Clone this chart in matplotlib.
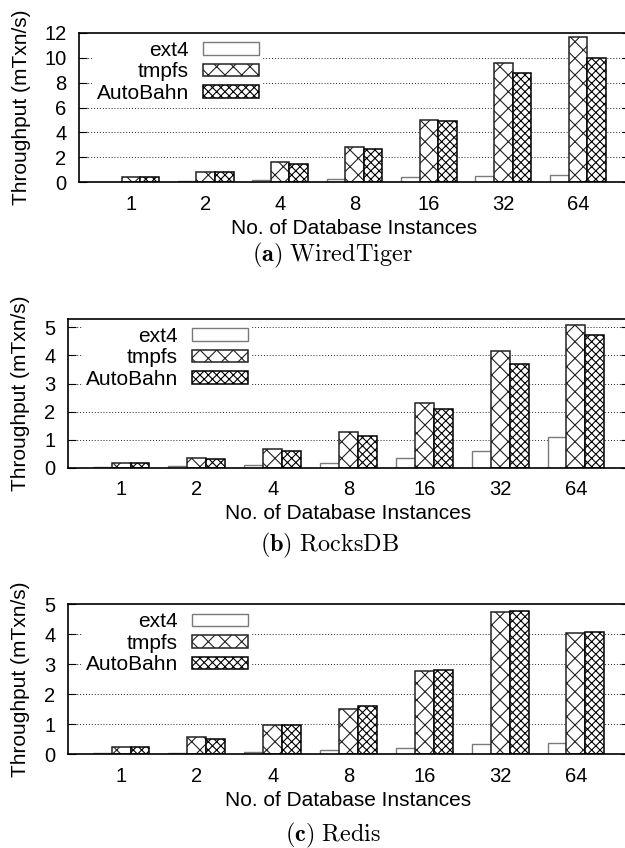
import numpy as np
import matplotlib
matplotlib.use("Agg")
import matplotlib.pyplot as plt

plt.rcParams['font.family'] = ['Liberation Sans', 'DejaVu Sans']
plt.rcParams['mathtext.fontset'] = 'cm'
plt.rcParams['hatch.linewidth'] = 0.8

categories = ["1", "2", "4", "8", "16", "32", "64"]
series_names = ["ext4", "tmpfs", "AutoBahn"]

wt_ext4 = [0.03, 0.07, 0.13, 0.27, 0.38, 0.47, 0.55]
wt_tmpfs = [0.43, 0.83, 1.58, 2.84, 4.99, 9.55, 11.70]
wt_ab = [0.40, 0.78, 1.45, 2.63, 4.89, 8.78, 9.98]

rd_ext4 = [0.02, 0.05, 0.09, 0.18, 0.33, 0.60, 1.10]
rd_tmpfs = [0.18, 0.36, 0.67, 1.26, 2.29, 4.16, 5.09]
rd_ab = [0.16, 0.31, 0.58, 1.12, 2.08, 3.68, 4.74]

re_ext4 = [0.03, 0.05, 0.07, 0.13, 0.19, 0.33, 0.36]
re_tmpfs = [0.22, 0.56, 0.98, 1.51, 2.76, 4.74, 4.04]
re_ab = [0.22, 0.49, 0.98, 1.59, 2.79, 4.79, 4.09]

wt_yticks = [0, 2, 4, 6, 8, 10, 12]
rd_yticks = [0, 1, 2, 3, 4, 5]
re_yticks = [0, 1, 2, 3, 4, 5]

captions = [r"$\mathbf{(a)}\ \mathrm{WiredTiger}$",
            r"$\mathbf{(b)}\ \mathrm{RocksDB}$",
            r"$\mathbf{(c)}\ \mathrm{Redis}$"]

W, H = 625, 848
fig = plt.figure(figsize=(W / 100, H / 100), dpi=100)

def fx(px):
    return px / W

def fy(py):
    return 1 - py / H

# panels: (left, right, top, bottom) in pixels
panels = [
    dict(box=(79, 630, 33, 182), data=(wt_ext4, wt_tmpfs, wt_ab), ylim=(0, 12), yticks=wt_yticks,
         leg=(263, 36.5), cap=(333, 255)),
    dict(box=(68, 629, 319, 467.7), data=(rd_ext4, rd_tmpfs, rd_ab), ylim=(0, 5.3), yticks=rd_yticks,
         leg=(252, 322.5), cap=(330, 545)),
    dict(box=(68, 629, 604.3, 754), data=(re_ext4, re_tmpfs, re_ab), ylim=(0, 5), yticks=re_yticks,
         leg=(252, 608), cap=(333, 835)),
]

x = np.arange(len(categories))
bw = 0.25
styles = [
    dict(facecolor='white', edgecolor='#7a7a7a', hatch=None, linewidth=1.0),
    dict(facecolor='white', edgecolor='#222222', hatch='xx', linewidth=1.1),
    dict(facecolor='white', edgecolor='#000000', hatch='xxxx', linewidth=1.1),
]

for i, p in enumerate(panels):
    l, r, t, b = p['box']
    ax = fig.add_axes([fx(l), fy(b), fx(r) - fx(l), fy(t) - fy(b)])
    handles = []
    for k, (vals, st) in enumerate(zip(p['data'], styles)):
        h = ax.bar(x + (k - 1) * bw, vals, width=bw, label=series_names[k], zorder=3, **st)
        handles.append(h)
    ax.set_xlim(-0.7, 6.7)
    ax.set_ylim(*p['ylim'])
    ax.set_xticks(x)
    ax.set_xticklabels(categories)
    ax.set_yticks(p['yticks'])
    ax.tick_params(axis='x', length=0, pad=9, labelsize=14.5)
    ax.tick_params(axis='y', direction='in', length=6, width=0.8, pad=9, labelsize=14.5,
                   right=True)
    for yv in p['yticks'][1:]:
        if yv < p['ylim'][1]:
            ax.axhline(yv, color='#222222', linewidth=0.7, linestyle=(0, (1, 2)), zorder=1)
    for s in ax.spines.values():
        s.set_linewidth(1.2)
        s.set_zorder(10)
    ax.set_xlabel("No. of Database Instances", fontsize=15, va='center')
    ax.xaxis.set_label_coords(0.5, -46 / (b - t))
    ax.set_ylabel("Throughput (mTxn/s)", fontsize=15, va='center')
    ax.yaxis.set_label_coords((21 - l) / (r - l), 0.5)
    leg = ax.legend(handles=handles, loc='upper right',
                    bbox_to_anchor=(fx(p['leg'][0]), fy(p['leg'][1])),
                    bbox_transform=fig.transFigure, markerfirst=False,
                    frameon=True, fancybox=False, framealpha=1.0, edgecolor='none',
                    facecolor='white', fontsize=15, borderpad=0.2, borderaxespad=0,
                    handlelength=2.7, handleheight=0.55, handletextpad=0.65,
                    labelspacing=0.12)
    leg.set_zorder(5)
    fig.text(fx(p['cap'][0]), fy(p['cap'][1]), captions[i], fontsize=17.5,
             ha='center', va='center')

fig.savefig("out.png", dpi=100)
